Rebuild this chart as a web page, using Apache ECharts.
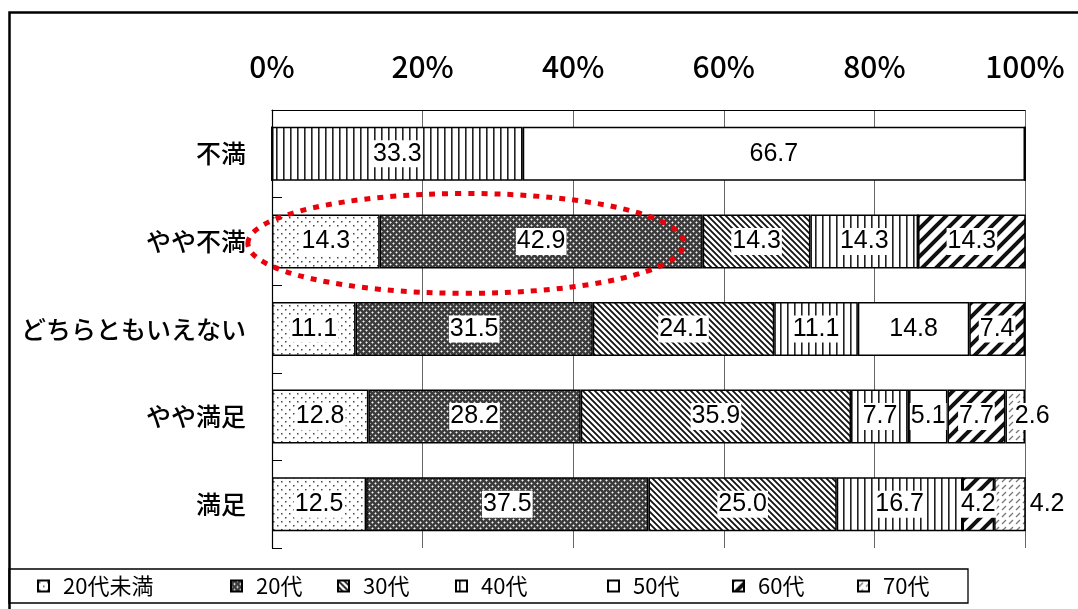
<!DOCTYPE html>
<html><head><meta charset="utf-8">
<script src="https://cdn.jsdelivr.net/npm/echarts@6/dist/echarts.min.js"></script>
<style>html,body{margin:0;padding:0;background:#fff}#c{width:1078px;height:609px}</style>
</head><body><div id="c"></div><script>
// ---- data ----
const categories = ['不満','やや不満','どちらともいえない','やや満足','満足'];
const seriesNames = ['20代未満','20代','30代','40代','50代','60代','70代'];
const v20u = [0,14.3,11.1,12.8,12.5];
const v20  = [0,42.9,31.5,28.2,37.5];
const v30  = [0,14.3,24.1,35.9,25.0];
const v40  = [33.3,14.3,11.1,7.7,16.7];
const v50  = [66.7,0,14.8,5.1,0];
const v60  = [0,14.3,7.4,7.7,4.2];
const v70  = [0,0,0,2.6,4.2];
const xTickValues = [0,20,40,60,80,100];
const seriesValues = [v20u,v20,v30,v40,v50,v60,v70];

// ---- patterns ----
function tile(w,h,draw){const c=document.createElement('canvas');c.width=w;c.height=h;const g=c.getContext('2d');g.fillStyle='#fff';g.fillRect(0,0,w,h);draw(g,w,h);return {image:c,repeat:'repeat'};}
const patterns = [
  tile(8,8,(g)=>{g.fillStyle='#444';g.fillRect(1,1,1.5,1.5);g.fillRect(5,5,1.5,1.5);}),
  tile(6,6,(g)=>{g.fillStyle='#3c3c3c';g.fillRect(0,0,6,6);g.fillStyle='#f4f4f4';g.fillRect(0,0,1,1);g.fillRect(3,3,1,1);
     g.fillStyle='#9a9a9a';[[1,0],[0,1],[5,0],[0,5],[4,3],[2,3],[3,2],[3,4]].forEach(p=>g.fillRect(p[0],p[1],1,1));}),
  tile(6,6,(g)=>{g.strokeStyle='#111';g.lineWidth=1.8;g.beginPath();g.moveTo(-1,-1);g.lineTo(7,7);g.moveTo(-4,2);g.lineTo(4,10);g.moveTo(2,-4);g.lineTo(10,4);g.stroke();}),
  tile(7,4,(g)=>{g.fillStyle='#222';g.fillRect(3,0,1.6,4);}),
  '#ffffff',
  tile(14,14,(g)=>{g.strokeStyle='#111';g.lineWidth=4;g.beginPath();g.moveTo(-2,16);g.lineTo(16,-2);g.moveTo(-9,9);g.lineTo(9,-9);g.moveTo(5,23);g.lineTo(23,5);g.stroke();}),
  tile(7,7,(g)=>{g.strokeStyle='#777';g.lineWidth=1.3;g.beginPath();g.moveTo(1,6);g.lineTo(5,2);g.stroke();})
];

const labelOverrides = { '70代|やや満足': {position:'inside', offset:[17,0]}, '70代|満足': {position:'right', distance:3} };

const series = seriesNames.map((name,si)=>({
  name, type:'bar', stack:'all', barWidth:54,
  itemStyle:{color:patterns[si], borderColor:'#000', borderWidth:1.5},
  label:{show:true, position:'inside', color:'#000', fontFamily:'Liberation Sans', fontSize:25,
         backgroundColor:'#fff', padding:[1,1,0,1], lineHeight:26,
         formatter:(p)=>Number(p.value).toFixed(1)},
  data: seriesValues[si].map((v,ci)=>{
    const o = {value:v};
    const key = name+'|'+categories[ci];
    o.label = Object.assign({show: v>0}, labelOverrides[key]||{});
    return o;
  })
}));

const legendLefts = [37,230,337,455,607,732,857];
const legends = seriesNames.map((n,i)=>({
  data:[n], left:legendLefts[i], top:575, padding:0, itemWidth:11, itemHeight:11, icon:'rect',
  selectedMode:false,
  textStyle:{fontFamily:'Noto Sans CJK JP', fontSize:22, color:'#000', padding:[0,0,0,9]}
}));

const chart = echarts.init(document.getElementById('c'));
chart.setOption({
  animation:false,
  backgroundColor:'#fff',
  grid:{left:272, right:53, top:110, bottom:61},
  xAxis:{type:'value', position:'top', min:0, max:100, interval:20,
    axisLine:{show:true, lineStyle:{color:'#000', width:1.2}},
    axisTick:{show:false},
    splitLine:{show:true, lineStyle:{color:'#666', width:1}},
    axisLabel:{formatter:'{value}%', fontFamily:'Noto Sans CJK JP', fontWeight:500, fontSize:30, color:'#000', margin:28}},
  yAxis:{type:'category', inverse:true, data:categories,
    axisLine:{show:true, lineStyle:{color:'#000', width:1.2}},
    axisTick:{show:true, inside:true, length:10, lineStyle:{color:'#000'}},
    axisLabel:{fontFamily:'Noto Sans CJK JP', fontWeight:500, fontSize:25, color:'#000', margin:26}},
  legend:legends,
  series
});

// frame, legend box, and red dotted ellipse annotation around the first two segments of やや不満
const cL = chart.convertToPixel({gridIndex:0},[-3.2,'やや不満']);
const cR = chart.convertToPixel({gridIndex:0},[54.7,'やや不満']);
const band = chart.convertToPixel({gridIndex:0},[0,'やや満足'])[1]-chart.convertToPixel({gridIndex:0},[0,'どちらともいえない'])[1];
chart.setOption({graphic:[
  {type:'polyline', shape:{points:[[9.5,609],[9.5,12.5],[1078,12.5]]}, style:{stroke:'#000', lineWidth:2.5, fill:null}, z:100},
  {type:'rect', shape:{x:9, y:569, width:959, height:34}, style:{stroke:'#000', lineWidth:1.3, fill:null}, z:100},
  {type:'ellipse', shape:{cx:(cL[0]+cR[0])/2, cy:cL[1]+2, rx:(cR[0]-cL[0])/2, ry:band*0.57},
   style:{stroke:'#e8000b', lineWidth:5, lineDash:[6,7], fill:null}, z:100}
]});
</script></body></html>
